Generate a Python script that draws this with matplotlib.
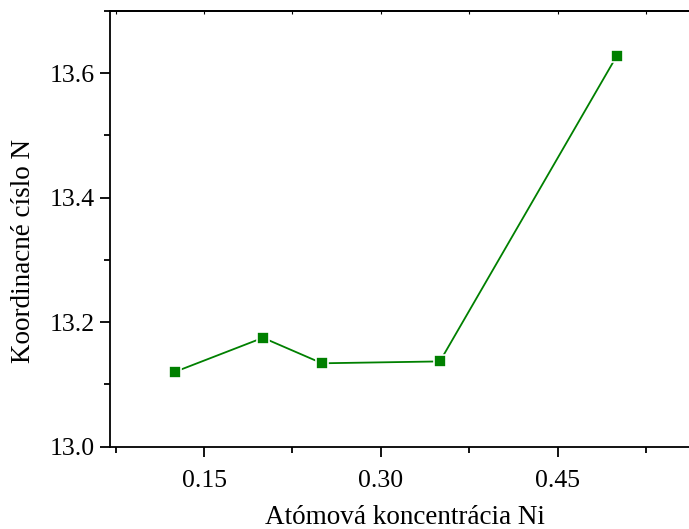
import matplotlib.pyplot as plt
from matplotlib.ticker import MultipleLocator

plt.rcParams['font.family'] = ['Liberation Serif', 'DejaVu Serif']

conc = [0.125, 0.20, 0.25, 0.35, 0.50]
coord = [13.12, 13.175, 13.134, 13.137, 13.628]
xticks = [0.15, 0.30, 0.45]
yticks = [13.0, 13.2, 13.4, 13.6]

fig = plt.figure(figsize=[6.89, 5.29], dpi=100)
# axes run past the right edge of the figure, like the cropped original
ax = fig.add_axes([0.1597, 0.1556, 0.9067, 0.8236])
ax.plot(conc, coord, color='#008000', linewidth=1.3, marker='s',
        markersize=8.5, markerfacecolor='#008000',
        markeredgecolor='white', markeredgewidth=1.2)

ax.set_xlim(0.0703, 0.6)
ax.set_ylim(13.0, 13.7)
ax.set_xticks(xticks)
ax.set_xticklabels(['%.2f' % v for v in xticks])
ax.set_yticks(yticks)
ax.set_yticklabels(['%.1f' % v for v in yticks])
ax.xaxis.set_minor_locator(MultipleLocator(0.075))
ax.yaxis.set_minor_locator(MultipleLocator(0.1))

for s in ax.spines.values():
    s.set_linewidth(1.3)
ax.spines['right'].set_visible(False)

ax.tick_params(which='major', direction='out', length=7, width=1.3,
               labelsize=18.5, pad=4)
ax.tick_params(which='minor', direction='out', length=4, width=1.3)
ax.tick_params(axis='x', which='both', top=False, bottom=True)
ax.tick_params(axis='x', which='major', pad=10)

ax.set_xlabel('Atómová koncentrácia Ni', size=19.5)
ax.set_ylabel('Koordinacné císlo N', size=19.5)
ax.xaxis.set_label_coords(0.472, -0.134)
ax.yaxis.set_label_coords(-0.118, 0.449)

# short inward ticks on the top spine
top = ax.secondary_xaxis('top')
top.set_xticks(xticks)
top.xaxis.set_minor_locator(MultipleLocator(0.075))
top.tick_params(which='both', direction='in', length=2, width=0.8,
                labeltop=False)
top.spines['top'].set_linewidth(1.3)

fig.savefig('out.png', dpi=100)
plt.close('all')
